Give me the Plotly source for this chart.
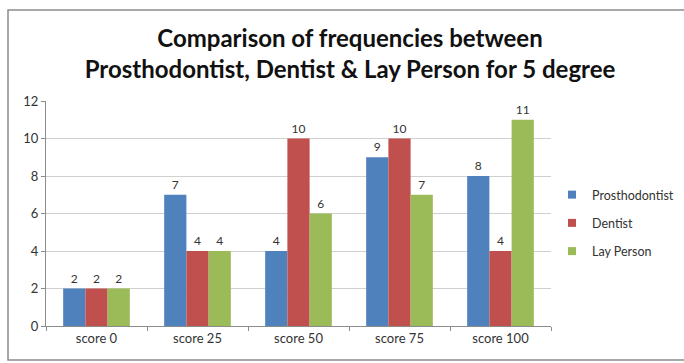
import plotly.graph_objects as go

categories = ["score 0", "score 25", "score 50", "score 75", "score 100"]
prosthodontist = [2, 7, 4, 9, 8]
dentist = [2, 4, 10, 10, 4]
lay_person = [2, 4, 6, 7, 11]
y_ticks = [0, 2, 4, 6, 8, 10, 12]

W, H = 684, 363
L, R, T, B = 46, 133, 101, 37

series = [
    ("Prosthodontist", prosthodontist, "#4F81BD"),
    ("Dentist", dentist, "#C0504D"),
    ("Lay Person", lay_person, "#9BBB59"),
]

FONT = "Lato, Arial"

fig = go.Figure()
for name, vals, color in series:
    fig.add_trace(go.Bar(
        name=name, x=categories, y=vals, showlegend=False,
        marker=dict(color=color, line=dict(width=0)),
        text=vals, textposition="outside", cliponaxis=False,
        textfont=dict(family=FONT, size=12, color="#333333"),
    ))

# small square legend keys
for name, vals, color in series:
    fig.add_trace(go.Scatter(
        name=name, x=[None], y=[None], mode="markers",
        legendgroup=name,
        marker=dict(symbol="square", size=8, color=color),
    ))

pw = W - L - R
ph = H - T - B


def px(x):
    return (x - L) / pw


def py(y):
    return (H - B - y) / ph


fig.update_layout(
    width=W, height=H,
    margin=dict(l=L, r=R, t=T, b=B, autoexpand=False),
    paper_bgcolor="white", plot_bgcolor="white",
    barmode="group", bargap=0.34, bargroupgap=0,
    font=dict(family=FONT, color="#333333"),
    title=dict(
        text="<b>Comparison of frequencies between<br>Prosthodontist, Dentist & Lay Person for 5 degree</b>",
        x=350 / W, xref="container", xanchor="center",
        y=1 - 47 / H, yref="container", yanchor="middle",
        font=dict(family=FONT, size=24, color="#111111"),
    ),
    legend=dict(
        x=px(552), y=py(223), xanchor="left", yanchor="middle",
        font=dict(family=FONT, size=12.5, color="#333333"),
        itemwidth=30, tracegroupgap=9,
        bgcolor="rgba(0,0,0,0)",
    ),
    xaxis=dict(
        showline=True, linecolor="#8C8C8C", linewidth=1,
        ticks="outside", tickson="boundaries", ticklen=4, tickcolor="#8C8C8C",
        tickfont=dict(family=FONT, size=13, color="#333333"),
        showgrid=False,
    ),
    yaxis=dict(
        range=[0, 12], tickvals=y_ticks,
        showline=True, linecolor="#8C8C8C", linewidth=1,
        ticks="outside", ticklen=4, tickcolor="#8C8C8C",
        showgrid=True, gridcolor="#D0D0D0", gridwidth=1,
        zeroline=False,
        tickfont=dict(family=FONT, size=13, color="#333333"),
    ),
    shapes=[dict(
        type="rect", xref="paper", yref="paper",
        x0=px(8), x1=px(700), y0=py(360), y1=py(10),
        line=dict(color="#8C8C8C", width=1.5), fillcolor="rgba(0,0,0,0)",
        layer="below",
    )],
)

fig.write_html("out.html")
